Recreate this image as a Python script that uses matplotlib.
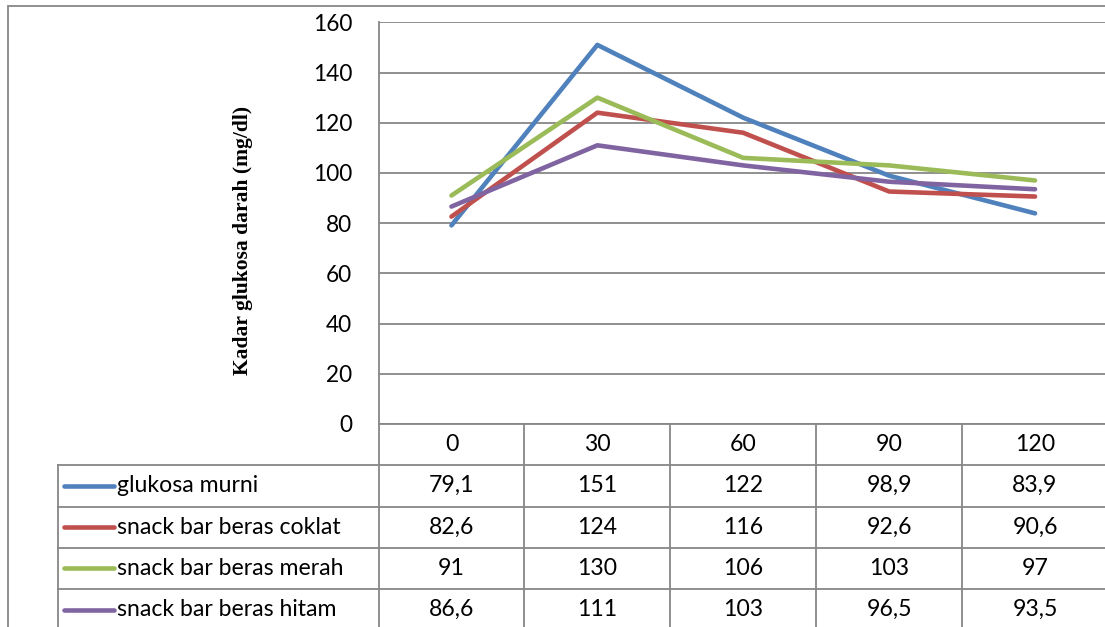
import numpy as np
import matplotlib
matplotlib.use("Agg")
import matplotlib.pyplot as plt
import matplotlib.transforms as mtransforms
from matplotlib.lines import Line2D
from matplotlib.patches import Rectangle

# data
times = ["0", "30", "60", "90", "120"]
series_names = ["glukosa murni", "snack bar beras coklat",
                "snack bar beras merah", "snack bar beras hitam"]
glukosa_murni = [79.1, 151, 122, 98.9, 83.9]
beras_coklat = [82.6, 124, 116, 92.6, 90.6]
beras_merah = [91, 130, 106, 103, 97]
beras_hitam = [86.6, 111, 103, 96.5, 93.5]
values = [glukosa_murni, beras_coklat, beras_merah, beras_hitam]
colors = ["#4F81BD", "#C0504D", "#9BBB59", "#8064A2"]

W, H = 1105, 627
grey = "#878787"
fnt = "Lato"
fs_tab = 16.6


def fy(py):
    return 1 - py / H


fig = plt.figure(figsize=(W / 100, H / 100), dpi=100, facecolor="w")

# outer chart border
fig.patches.append(Rectangle((8 / W, fy(700)), 1.2, (700 - 6) / H,
                             transform=fig.transFigure, fill=False,
                             edgecolor=grey, lw=1.3))

ax_l, ax_r, ax_t, ax_b = 378.5, 1108, 22.3, 424
ax = fig.add_axes([ax_l / W, fy(ax_b), (ax_r - ax_l) / W, (ax_b - ax_t) / H])
x = np.arange(len(times))
for vals, c in zip(values, colors):
    ax.plot(x, vals, color=c, lw=3.3, solid_capstyle="round", zorder=3)

ax.set_xlim(-0.5, len(times) - 0.5)
ax.set_ylim(0, 160)
ax.set_yticks(np.arange(0, 161, 20))
ax.set_xticks([])
ax.grid(axis="y", color=grey, lw=1.3)
ax.set_axisbelow(True)
for s in ["top", "right", "bottom"]:
    ax.spines[s].set_visible(False)
ax.spines["left"].set_color(grey)
ax.spines["left"].set_linewidth(1.3)
ax.tick_params(axis="y", length=0, pad=19, labelsize=16.3)
for lbl in ax.get_yticklabels():
    lbl.set_fontfamily(fnt)

fig.text(243 / W, fy(240), "Kadar glukosa darah (mg/dl)", rotation=90,
         ha="center", va="center", family="Liberation Serif",
         weight="bold", fontsize=15.5)

# data table below the axis
tr = mtransforms.blended_transform_factory(ax.transData, fig.transFigure)
rows = [424, 465, 506.5, 547.7, 589, 630]
n = len(times)
# horizontal lines
ax.add_line(Line2D([-0.5, n - 0.5], [fy(rows[0])] * 2, transform=tr,
                   color=grey, lw=1.3, clip_on=False))
for r in rows[1:]:
    fig.add_artist(Line2D([58 / W, 1.1], [fy(r)] * 2, transform=fig.transFigure,
                          color=grey, lw=1.3))
# vertical lines
for i in range(n + 1):
    ax.add_line(Line2D([i - 0.5, i - 0.5], [fy(rows[0]), fy(rows[-1])],
                       transform=tr, color=grey, lw=1.3, clip_on=False))
fig.add_artist(Line2D([58 / W, 58 / W], [fy(rows[1]), fy(rows[-1])],
                      transform=fig.transFigure, color=grey, lw=1.3))

# header
for i, t in enumerate(times):
    ax.text(i, fy((rows[0] + rows[1]) / 2), t, transform=tr, ha="center",
            va="center", fontsize=fs_tab, family=fnt, clip_on=False)


def fmt(v):
    return f"{v:g}".replace(".", ",")


for j, (name, vals, c) in enumerate(zip(series_names, values, colors)):
    yc = fy((rows[j + 1] + rows[j + 2]) / 2)
    fig.add_artist(Line2D([64 / W, 114 / W], [yc, yc], transform=fig.transFigure,
                          color=c, lw=3.3, solid_capstyle="round"))
    fig.text(117 / W, yc, name, ha="left", va="center", fontsize=fs_tab,
             family=fnt)
    for i, v in enumerate(vals):
        ax.text(i, yc, fmt(v), transform=tr, ha="center", va="center",
                fontsize=fs_tab, family=fnt, clip_on=False)

fig.savefig("out.png", dpi=100, facecolor="w")
